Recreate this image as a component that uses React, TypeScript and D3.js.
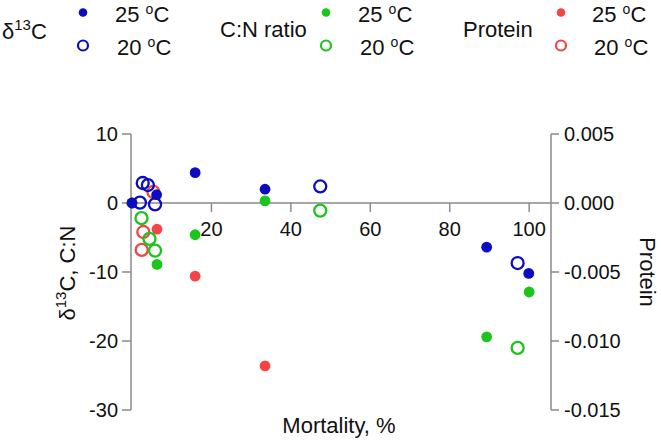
import * as d3 from 'd3'
import { useEffect, useRef } from 'react'

// mortality (%) and values per series
const d13C25X = [0, 6.2, 15.9, 33.5, 89.3, 99.9]
const d13C25Y = [0, 1.2, 4.4, 2.0, -6.4, -10.2]
const d13C20X = [2.7, 4.0, 2.0, 5.8, 47.4, 97.1]
const d13C20Y = [2.9, 2.6, 0.05, -0.2, 2.4, -8.7]

const cn25X = [0, 6.3, 15.9, 33.5, 89.3, 100]
const cn25Y = [0, -8.9, -4.6, 0.3, -19.4, -12.9]
const cn20X = [2.4, 4.4, 5.8, 47.4, 97.1]
const cn20Y = [-2.2, -5.2, -6.9, -1.1, -21.0]

const prot25X = [0, 6.3, 15.9, 33.5]
const prot25Y = [0, -0.0019, -0.0053, -0.0118]
const prot20X = [5.4, 2.85, 2.45]
const prot20Y = [0.0008, -0.0021, -0.0034]

const xTicks = [20, 40, 60, 80, 100]
const leftTicks = [10, 0, -10, -20, -30]
const rightTicks = [0.005, 0, -0.005, -0.01, -0.015]

const BLUE = '#0c0cc0'
const GREEN = '#1cc41c'
const RED = '#f34545'
const AXIS = '#8a8a8a'
const FONT = '"Liberation Sans", Arial, sans-serif'

const Chart = () => {
  const svgRef = useRef(null)

  useEffect(() => {
    const svg = d3.select(svgRef.current)
    svg.selectAll('*').remove()

    const x = d3.scaleLinear().domain([-0.25, 105.5]).range([131, 551])
    const yL = d3.scaleLinear().domain([-30, 10]).range([410, 134])
    const yR = d3.scaleLinear().domain([-0.015, 0.005]).range([410, 134])

    const g = svg.append('g').style('font-family', FONT)

    // axes lines
    g.append('line')
      .attr('x1', x.range()[0]).attr('x2', x.range()[0])
      .attr('y1', yL(10)).attr('y2', yL(-30))
      .attr('stroke', AXIS).attr('stroke-width', 1.5)
    g.append('line')
      .attr('x1', x.range()[1]).attr('x2', x.range()[1])
      .attr('y1', yR(0.005)).attr('y2', yR(-0.015))
      .attr('stroke', AXIS).attr('stroke-width', 1.5)
    g.append('line')
      .attr('x1', x.range()[0]).attr('x2', x.range()[1])
      .attr('y1', yL(0)).attr('y2', yL(0))
      .attr('stroke', AXIS).attr('stroke-width', 1.5)

    // left ticks
    leftTicks.forEach((t) => {
      g.append('line')
        .attr('x1', x.range()[0] - 9).attr('x2', x.range()[0])
        .attr('y1', yL(t)).attr('y2', yL(t))
        .attr('stroke', AXIS).attr('stroke-width', 1.5)
      g.append('text')
        .attr('x', x.range()[0] - 13).attr('y', yL(t)).attr('dy', '0.36em')
        .attr('text-anchor', 'end').attr('font-size', 20).attr('fill', '#111')
        .text(t)
    })

    // right ticks
    rightTicks.forEach((t) => {
      g.append('line')
        .attr('x1', x.range()[1]).attr('x2', x.range()[1] + 8)
        .attr('y1', yR(t)).attr('y2', yR(t))
        .attr('stroke', AXIS).attr('stroke-width', 1.5)
      g.append('text')
        .attr('x', x.range()[1] + 13).attr('y', yR(t)).attr('dy', '0.36em')
        .attr('text-anchor', 'start').attr('font-size', 20).attr('fill', '#111')
        .text(d3.format('.3f')(t).replace('−', '-'))
    })

    // x ticks
    xTicks.forEach((t) => {
      g.append('line')
        .attr('x1', x(t)).attr('x2', x(t))
        .attr('y1', yL(0)).attr('y2', yL(0) + 9)
        .attr('stroke', AXIS).attr('stroke-width', 1.5)
      g.append('text')
        .attr('x', x(t)).attr('y', 236)
        .attr('text-anchor', 'middle').attr('font-size', 20).attr('fill', '#111')
        .text(t)
    })

    // axis titles
    g.append('text')
      .attr('x', 339).attr('y', 433)
      .attr('text-anchor', 'middle').attr('font-size', 22).attr('fill', '#111')
      .text('Mortality, %')

    const lt = g.append('text')
      .attr('transform', 'translate(75,273) rotate(-90)')
      .attr('text-anchor', 'middle').attr('font-size', 22).attr('fill', '#111')
    lt.append('tspan').text('δ')
    lt.append('tspan').attr('font-size', 15).attr('dy', -9).text('13')
    lt.append('tspan').attr('dy', 9).text('C, C:N')

    g.append('text')
      .attr('transform', 'translate(640,272) rotate(90)')
      .attr('text-anchor', 'middle').attr('font-size', 22).attr('fill', '#111')
      .text('Protein')

    // points: protein, then C:N, then d13C on top
    const drawSeries = (xs, ys, yScale, color, filled) => {
      xs.forEach((v, i) => {
        const c = g.append('circle')
          .attr('cx', x(v)).attr('cy', yScale(ys[i]))
        if (filled) {
          c.attr('r', 5.4).attr('fill', color)
        } else {
          c.attr('r', 6).attr('fill', 'none').attr('stroke', color).attr('stroke-width', 2.3)
        }
      })
    }
    drawSeries(prot20X, prot20Y, yR, RED, false)
    drawSeries(prot25X, prot25Y, yR, RED, true)
    drawSeries(cn20X, cn20Y, yL, GREEN, false)
    drawSeries(cn25X, cn25Y, yL, GREEN, true)
    drawSeries(d13C20X, d13C20Y, yL, BLUE, false)
    drawSeries(d13C25X, d13C25Y, yL, BLUE, true)

    // legend
    const tempLabel = (px, py, temp) => {
      const t = g.append('text').attr('x', px).attr('y', py)
        .attr('font-size', 22).attr('fill', '#111')
      t.append('tspan').text(temp + ' ')
      t.append('tspan').attr('font-size', 14).attr('dy', -8).text('o')
      t.append('tspan').attr('dy', 8).text('C')
    }
    const legendGroup = (labelX, markX, textX, color, label) => {
      if (label === 'd13C') {
        const t = g.append('text').attr('x', labelX).attr('y', 39)
          .attr('font-size', 22).attr('fill', '#111')
        t.append('tspan').text('δ')
        t.append('tspan').attr('font-size', 15).attr('dy', -9).text('13')
        t.append('tspan').attr('dy', 9).text('C')
      } else {
        g.append('text').attr('x', labelX).attr('y', 37)
          .attr('font-size', 22).attr('fill', '#111').text(label)
      }
      g.append('circle').attr('cx', markX).attr('cy', 12.5).attr('r', 4.3).attr('fill', color)
      g.append('circle').attr('cx', markX).attr('cy', 45.5).attr('r', 5)
        .attr('fill', 'none').attr('stroke', color).attr('stroke-width', 2.2)
      tempLabel(textX, 22, '25')
      tempLabel(textX + 2, 55, '20')
    }
    legendGroup(2, 83, 115, BLUE, 'd13C')
    legendGroup(220, 326, 358, GREEN, 'C:N ratio')
    legendGroup(463, 561, 592, RED, 'Protein')
  }, [])

  return <svg width="661" height="440" ref={svgRef} style={{ position: 'absolute', left: 0, top: 0, background: '#fff' }}></svg>
}

export default function App() {
  return <Chart />
}
